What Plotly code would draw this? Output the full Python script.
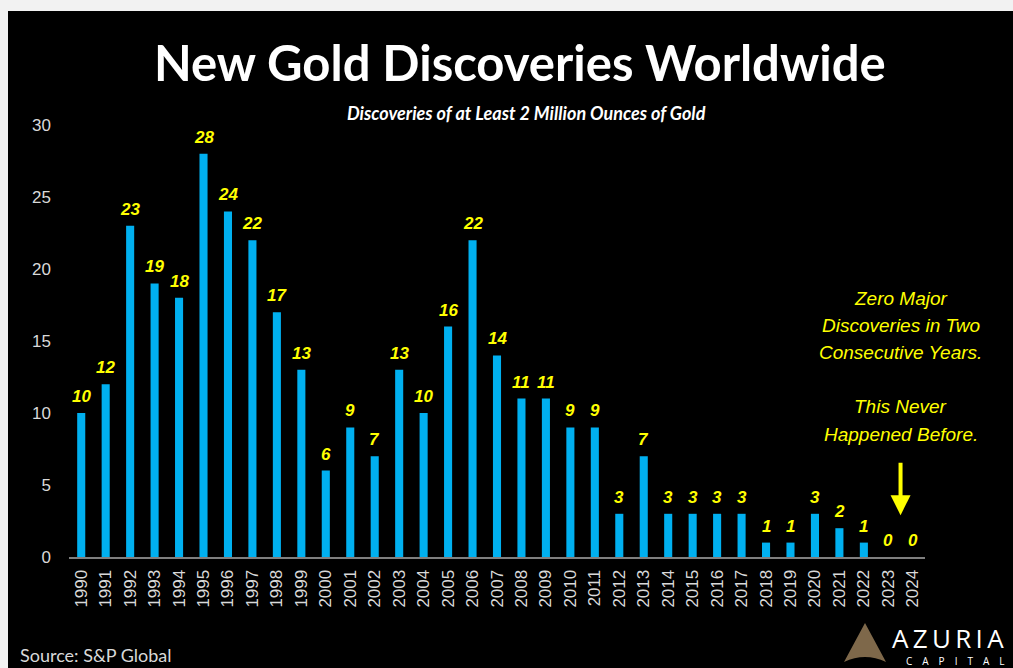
import plotly.graph_objects as go

years = [str(y) for y in range(1990, 2025)]
discoveries = [10, 12, 23, 19, 18, 28, 24, 22, 17, 13, 6, 9, 7, 13, 10, 16, 22, 14,
               11, 11, 9, 9, 3, 7, 3, 3, 3, 3, 1, 1, 3, 2, 1, 0, 0]
y_ticks = [0, 5, 10, 15, 20, 25, 30]

title_text = "New Gold Discoveries Worldwide"
subtitle_text = "Discoveries of at Least 2 Million Ounces of Gold"
note_lines = ["Zero Major", "Discoveries in Two", "Consecutive Years.", "",
              "This Never", "Happened Before."]
source_text = "Source: S&P Global"

W, H = 1013, 668
L, R, T, B = 69, 88, 125, 111
PW, PH = W - L - R, H - T - B


def X(px):
    return (px - L) / PW


def Y(py):
    return (H - B - py) / PH


BAR = "#00b0f0"
YEL = "#ffff00"
TICK = "#d9d9d9"

fig = go.Figure()
fig.add_trace(go.Bar(
    x=years, y=discoveries, width=0.33,
    marker=dict(color=BAR, line=dict(width=0)),
    hoverinfo="skip",
))

for i, v in enumerate(discoveries):
    fig.add_annotation(x=i, y=v, xref="x", yref="y", text=str(v), showarrow=False,
                       yanchor="bottom", yshift=5,
                       font=dict(family="Arial", size=17, color=YEL, weight="bold", style="italic"))

fig.update_layout(
    width=W, height=H, autosize=False,
    margin=dict(l=L, r=R, t=T, b=B),
    paper_bgcolor="#f2f2f2", plot_bgcolor="rgba(0,0,0,0)",
    showlegend=False,
    xaxis=dict(type="category", range=[-0.5, len(years) - 0.5], tickangle=-90,
               tickfont=dict(family="Arial", size=17, color=TICK),
               showline=True, linecolor="#7f7f7f", linewidth=2, showgrid=False,
               zeroline=False, ticks="", ticklabelstandoff=4),
    yaxis=dict(range=[0, 30], tickvals=y_ticks, showgrid=False, zeroline=False,
               showline=False, ticks="", ticklabelstandoff=17,
               tickfont=dict(family="Arial", size=17, color=TICK)),
)

# black panel
fig.add_shape(type="rect", xref="paper", yref="paper", layer="below",
              x0=X(8), x1=X(W + 5), y0=Y(H + 5), y1=Y(11),
              fillcolor="#000000", line=dict(width=0))

# logo triangle
fig.add_shape(type="path", xref="paper", yref="paper", layer="above",
              path=(f"M {X(865)} {Y(623)} L {X(886)} {Y(662)} "
                    f"Q {X(865)} {Y(652)} {X(844)} {Y(662)} Z"),
              fillcolor="#8c7352", line=dict(width=0), opacity=0.9)

fig.add_annotation(xref="paper", yref="paper", x=X(520), y=Y(62), text=title_text,
                   showarrow=False, xanchor="center", yanchor="middle",
                   font=dict(family="Lato", size=49, color="white", weight="bold"))
fig.add_annotation(xref="paper", yref="paper", x=X(526), y=Y(113), text=subtitle_text,
                   showarrow=False, xanchor="center", yanchor="middle",
                   font=dict(family="Lato", size=18, color="white", weight="bold", style="italic"))
fig.add_annotation(xref="paper", yref="paper", x=X(18), y=Y(655), text=source_text,
                   showarrow=False, xanchor="left", yanchor="middle",
                   font=dict(family="Lato", size=18, color=TICK))
for k, line in enumerate(note_lines):
    if line:
        fig.add_annotation(xref="x", yref="paper", x=33.5, y=Y(298 + 27.2 * k), text=line,
                           showarrow=False, xanchor="center", yanchor="middle",
                           font=dict(family="Arial", size=19, color=YEL, style="italic"))
fig.add_annotation(xref="x", yref="y", x=33.5, y=2.9, ax=0, ay=-54, text="",
                   showarrow=True, arrowcolor=YEL, arrowwidth=4, arrowhead=2, arrowsize=1.0)
fig.add_annotation(xref="paper", yref="paper", x=X(1006), y=Y(638),
                   text="A\u2009Z\u2009U\u2009R\u2009I\u2009A",
                   showarrow=False, xanchor="right", yanchor="middle",
                   font=dict(family="Open Sans", size=26, color="white"))
fig.add_annotation(xref="paper", yref="paper", x=X(1006), y=Y(661),
                   text="C\u2002\u2002A\u2002\u2002P\u2002\u2002I\u2002\u2002T\u2002\u2002A\u2002\u2002L",
                   showarrow=False, xanchor="right", yanchor="middle",
                   font=dict(family="Open Sans", size=10, color="white"))

fig.write_html("out.html", config={"displayModeBar": False},
               post_script="document.body.style.margin='0px';document.body.style.overflow='hidden';")
